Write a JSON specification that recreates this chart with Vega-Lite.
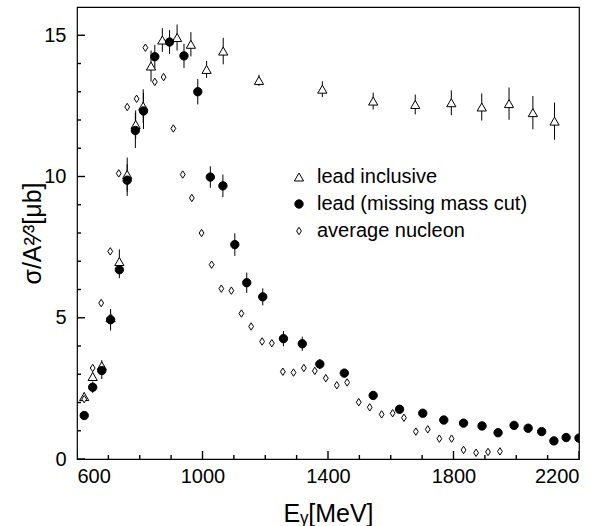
{
  "$schema": "https://vega.github.io/schema/vega-lite/v6.json",
  "width": 502,
  "height": 452,
  "autosize": {"type": "none"},
  "padding": {"left": 77, "top": 7, "right": 24, "bottom": 67},
  "background": "white",
  "config": {
    "font": "Liberation Sans",
    "view": {"stroke": "black", "strokeWidth": 1.2},
    "axis": {"grid": false, "domain": false, "ticks": false, "labelColor": "black", "titleColor": "black", "labelFont": "Liberation Sans", "titleFont": "Liberation Sans", "labelFontSize": 20, "titleFontSize": 25, "titleFontWeight": "normal", "labelOverlap": false}
  },
  "datasets": {
    "xmajor": [{"v": 600}, {"v": 1000}, {"v": 1400}, {"v": 1800}, {"v": 2200}],
    "xminor": [{"v": 700}, {"v": 800}, {"v": 900}, {"v": 1100}, {"v": 1200}, {"v": 1300}, {"v": 1500}, {"v": 1600}, {"v": 1700}, {"v": 1900}, {"v": 2000}, {"v": 2100}],
    "ymajor": [{"v": 0}, {"v": 5}, {"v": 10}, {"v": 15}],
    "yminor": [{"v": 1}, {"v": 2}, {"v": 3}, {"v": 4}, {"v": 6}, {"v": 7}, {"v": 8}, {"v": 9}, {"v": 11}, {"v": 12}, {"v": 13}, {"v": 14}],
    "pts": [
      {"series": "lead inclusive", "E": 623, "s": 2.21, "err": 0.15},
      {"series": "lead inclusive", "E": 650, "s": 2.92, "err": 0.15},
      {"series": "lead inclusive", "E": 679, "s": 3.30, "err": 0.2},
      {"series": "lead inclusive", "E": 707, "s": 5.0, "err": 0.25},
      {"series": "lead inclusive", "E": 735, "s": 6.99, "err": 0.43},
      {"series": "lead inclusive", "E": 760, "s": 10.07, "err": 0.6},
      {"series": "lead inclusive", "E": 787, "s": 11.84, "err": 0.5},
      {"series": "lead inclusive", "E": 811, "s": 12.49, "err": 0.6},
      {"series": "lead inclusive", "E": 836, "s": 13.91, "err": 0.55},
      {"series": "lead inclusive", "E": 872, "s": 14.83, "err": 0.42},
      {"series": "lead inclusive", "E": 919, "s": 14.92, "err": 0.46},
      {"series": "lead inclusive", "E": 963, "s": 14.68, "err": 0.43},
      {"series": "lead inclusive", "E": 1013, "s": 13.79, "err": 0.3},
      {"series": "lead inclusive", "E": 1066, "s": 14.44, "err": 0.47},
      {"series": "lead inclusive", "E": 1180, "s": 13.40, "err": 0.2},
      {"series": "lead inclusive", "E": 1382, "s": 13.09, "err": 0.28},
      {"series": "lead inclusive", "E": 1544, "s": 12.67, "err": 0.3},
      {"series": "lead inclusive", "E": 1678, "s": 12.55, "err": 0.35},
      {"series": "lead inclusive", "E": 1793, "s": 12.61, "err": 0.44},
      {"series": "lead inclusive", "E": 1890, "s": 12.46, "err": 0.48},
      {"series": "lead inclusive", "E": 1977, "s": 12.58, "err": 0.57},
      {"series": "lead inclusive", "E": 2053, "s": 12.26, "err": 0.59},
      {"series": "lead inclusive", "E": 2122, "s": 11.96, "err": 0.66},
      {"series": "lead (missing mass cut)", "E": 623, "s": 1.54, "err": 0.08},
      {"series": "lead (missing mass cut)", "E": 650, "s": 2.54, "err": 0.2},
      {"series": "lead (missing mass cut)", "E": 679, "s": 3.13, "err": 0.3},
      {"series": "lead (missing mass cut)", "E": 707, "s": 4.93, "err": 0.38},
      {"series": "lead (missing mass cut)", "E": 735, "s": 6.70, "err": 0.3},
      {"series": "lead (missing mass cut)", "E": 760, "s": 9.87, "err": 0.56},
      {"series": "lead (missing mass cut)", "E": 786, "s": 11.63, "err": 0.62},
      {"series": "lead (missing mass cut)", "E": 812, "s": 12.32, "err": 0.64},
      {"series": "lead (missing mass cut)", "E": 848, "s": 14.24, "err": 0.42},
      {"series": "lead (missing mass cut)", "E": 895, "s": 14.76, "err": 0.42},
      {"series": "lead (missing mass cut)", "E": 941, "s": 14.27, "err": 0.43},
      {"series": "lead (missing mass cut)", "E": 985, "s": 13.0, "err": 0.45},
      {"series": "lead (missing mass cut)", "E": 1025, "s": 9.98, "err": 0.38},
      {"series": "lead (missing mass cut)", "E": 1065, "s": 9.67, "err": 0.4},
      {"series": "lead (missing mass cut)", "E": 1103, "s": 7.59, "err": 0.4},
      {"series": "lead (missing mass cut)", "E": 1141, "s": 6.24, "err": 0.36},
      {"series": "lead (missing mass cut)", "E": 1192, "s": 5.74, "err": 0.3},
      {"series": "lead (missing mass cut)", "E": 1258, "s": 4.26, "err": 0.27},
      {"series": "lead (missing mass cut)", "E": 1318, "s": 4.08, "err": 0.25},
      {"series": "lead (missing mass cut)", "E": 1374, "s": 3.36, "err": 0.18},
      {"series": "lead (missing mass cut)", "E": 1452, "s": 3.04, "err": 0.12},
      {"series": "lead (missing mass cut)", "E": 1544, "s": 2.25, "err": 0.1},
      {"series": "lead (missing mass cut)", "E": 1628, "s": 1.76, "err": 0.08},
      {"series": "lead (missing mass cut)", "E": 1702, "s": 1.62, "err": 0.08},
      {"series": "lead (missing mass cut)", "E": 1769, "s": 1.38, "err": 0.08},
      {"series": "lead (missing mass cut)", "E": 1832, "s": 1.27, "err": 0.08},
      {"series": "lead (missing mass cut)", "E": 1891, "s": 1.17, "err": 0.08},
      {"series": "lead (missing mass cut)", "E": 1942, "s": 0.93, "err": 0.08},
      {"series": "lead (missing mass cut)", "E": 1993, "s": 1.19, "err": 0.08},
      {"series": "lead (missing mass cut)", "E": 2038, "s": 1.09, "err": 0.08},
      {"series": "lead (missing mass cut)", "E": 2081, "s": 0.97, "err": 0.08},
      {"series": "lead (missing mass cut)", "E": 2120, "s": 0.64, "err": 0.08},
      {"series": "lead (missing mass cut)", "E": 2159, "s": 0.76, "err": 0.08},
      {"series": "lead (missing mass cut)", "E": 2200, "s": 0.74, "err": 0.08},
      {"series": "average nucleon", "E": 623, "s": 2.12},
      {"series": "average nucleon", "E": 650, "s": 3.22},
      {"series": "average nucleon", "E": 677, "s": 5.52},
      {"series": "average nucleon", "E": 706, "s": 7.35},
      {"series": "average nucleon", "E": 733, "s": 10.11},
      {"series": "average nucleon", "E": 760, "s": 12.46},
      {"series": "average nucleon", "E": 790, "s": 12.75},
      {"series": "average nucleon", "E": 818, "s": 14.56},
      {"series": "average nucleon", "E": 848, "s": 13.35},
      {"series": "average nucleon", "E": 876, "s": 13.52},
      {"series": "average nucleon", "E": 907, "s": 11.70},
      {"series": "average nucleon", "E": 937, "s": 10.07},
      {"series": "average nucleon", "E": 966, "s": 9.24},
      {"series": "average nucleon", "E": 997, "s": 8.0},
      {"series": "average nucleon", "E": 1029, "s": 6.88},
      {"series": "average nucleon", "E": 1060, "s": 6.03},
      {"series": "average nucleon", "E": 1092, "s": 5.96},
      {"series": "average nucleon", "E": 1124, "s": 5.15},
      {"series": "average nucleon", "E": 1155, "s": 4.69},
      {"series": "average nucleon", "E": 1190, "s": 4.16},
      {"series": "average nucleon", "E": 1221, "s": 4.10},
      {"series": "average nucleon", "E": 1256, "s": 3.09},
      {"series": "average nucleon", "E": 1290, "s": 3.06},
      {"series": "average nucleon", "E": 1323, "s": 3.22},
      {"series": "average nucleon", "E": 1358, "s": 3.12},
      {"series": "average nucleon", "E": 1393, "s": 2.86},
      {"series": "average nucleon", "E": 1428, "s": 2.61},
      {"series": "average nucleon", "E": 1461, "s": 2.71},
      {"series": "average nucleon", "E": 1498, "s": 2.01},
      {"series": "average nucleon", "E": 1533, "s": 1.83},
      {"series": "average nucleon", "E": 1571, "s": 1.58},
      {"series": "average nucleon", "E": 1606, "s": 1.62},
      {"series": "average nucleon", "E": 1642, "s": 1.46},
      {"series": "average nucleon", "E": 1680, "s": 0.97},
      {"series": "average nucleon", "E": 1718, "s": 1.05},
      {"series": "average nucleon", "E": 1755, "s": 0.72},
      {"series": "average nucleon", "E": 1794, "s": 0.72},
      {"series": "average nucleon", "E": 1832, "s": 0.32},
      {"series": "average nucleon", "E": 1872, "s": 0.22},
      {"series": "average nucleon", "E": 1910, "s": 0.25},
      {"series": "average nucleon", "E": 1948, "s": 0.27}
    ]
  },
  "layer": [
    {
      "data": {"name": "pts"},
      "transform": [{"filter": "datum.series !== 'average nucleon'"}],
      "mark": {"type": "errorbar", "color": "black", "thickness": 1, "clip": true},
      "encoding": {
        "x": {"field": "E", "type": "quantitative", "scale": {"domain": [600, 2200], "nice": false, "zero": false},
          "axis": {"orient": "bottom", "values": [600, 1000, 1400, 1800, 2200], "format": "d", "labelPadding": 7, "title": "Eᵧ[MeV]", "titleBaseline": "alphabetic", "titleY": 62}},
        "y": {"field": "s", "type": "quantitative", "scale": {"domain": [0, 16], "nice": false},
          "axis": {"orient": "left", "values": [0, 5, 10, 15], "format": "d", "labelPadding": 11, "title": "σ/A²⁄³[μb]", "titleBaseline": "alphabetic", "titleX": -37}},
        "yError": {"field": "err"}
      }
    },
    {
      "data": {"name": "xmajor"},
      "mark": {"type": "tick", "orient": "vertical", "color": "black", "opacity": 1, "thickness": 1.4, "size": 16, "clip": true},
      "encoding": {"x": {"field": "v", "type": "quantitative"}, "y": {"datum": 0, "type": "quantitative"}}
    },
    {
      "data": {"name": "xminor"},
      "mark": {"type": "tick", "orient": "vertical", "color": "black", "opacity": 1, "thickness": 1.4, "size": 8, "clip": true},
      "encoding": {"x": {"field": "v", "type": "quantitative"}, "y": {"datum": 0, "type": "quantitative"}}
    },
    {
      "data": {"name": "ymajor"},
      "mark": {"type": "tick", "orient": "horizontal", "color": "black", "opacity": 1, "thickness": 1.4, "size": 16, "clip": true},
      "encoding": {"y": {"field": "v", "type": "quantitative"}, "x": {"datum": 600, "type": "quantitative"}}
    },
    {
      "data": {"name": "yminor"},
      "mark": {"type": "tick", "orient": "horizontal", "color": "black", "opacity": 1, "thickness": 1.4, "size": 8, "clip": true},
      "encoding": {"y": {"field": "v", "type": "quantitative"}, "x": {"datum": 600, "type": "quantitative"}}
    },
    {
      "data": {"name": "pts"},
      "mark": {"type": "point", "filled": true, "stroke": "black", "strokeWidth": 1, "opacity": 1, "clip": true},
      "encoding": {
        "x": {"field": "E", "type": "quantitative"},
        "y": {"field": "s", "type": "quantitative"},
        "shape": {"field": "series", "type": "nominal",
          "scale": {"domain": ["lead inclusive", "lead (missing mass cut)", "average nucleon"], "range": ["triangle-up", "circle", "M0,-1L0.65,0L0,1L-0.65,0Z"]},
          "legend": {"title": null, "orient": "none", "legendX": 212, "legendY": 160, "labelFontSize": 20, "labelFont": "Liberation Sans", "labelColor": "black", "labelLimit": 400, "rowPadding": 7, "labelOffset": 8, "symbolStrokeColor": "black", "symbolStrokeWidth": 1, "padding": 0}},
        "fill": {"field": "series", "type": "nominal",
          "scale": {"domain": ["lead inclusive", "lead (missing mass cut)", "average nucleon"], "range": ["white", "black", "white"]}},
        "size": {"field": "series", "type": "nominal",
          "scale": {"domain": ["lead inclusive", "lead (missing mass cut)", "average nucleon"], "range": [85, 55, 120]}}
      }
    }
  ]
}
